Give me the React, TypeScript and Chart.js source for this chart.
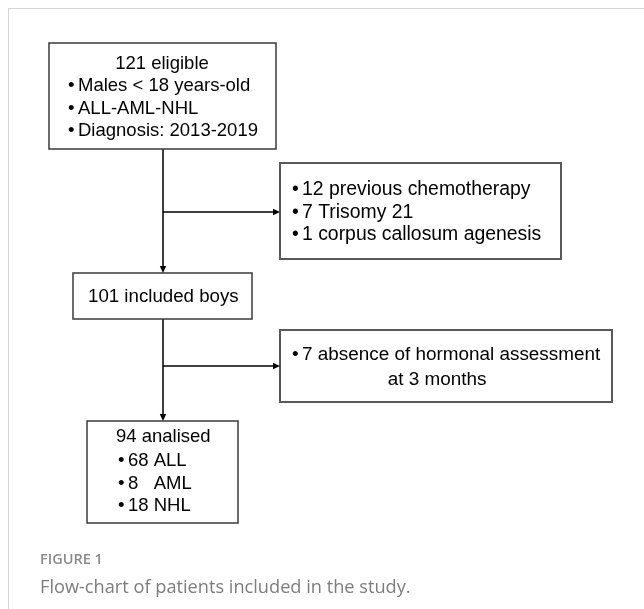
import React, { useEffect, useRef } from "react";
import { Chart, registerables } from "chart.js";

Chart.register(...registerables);

// ---------- content (text of the flow-chart) ----------
const eligibleTitle = "121 eligible";
const eligibleCriteria = ["Males < 18 years-old", "ALL-AML-NHL", "Diagnosis: 2013-2019"];
const firstExclusions = ["12 previous chemotherapy", "7 Trisomy 21", "1 corpus callosum agenesis"];
const includedText = "101 included boys";
const secondExclusion = "7 absence of hormonal assessment";
const secondExclusionCont = "at 3 months";
const analysedTitle = "94 analised";
const analysedGroups = ["68 ALL", "8   AML", "18 NHL"];
const figureLabel = "FIGURE 1";
const figureCaption = "Flow-chart of patients included in the study.";

// ---------- layout (page coordinates, px) ----------
const W = 644;
const H = 609;
const boxes = [
  { x0: 49, y0: 43, x1: 276, y1: 149, color: "#3a3a3a", width: 1.5 },
  { x0: 280, y0: 163, x1: 561, y1: 259, color: "#595959", width: 2 },
  { x0: 73, y0: 273, x1: 252, y1: 319, color: "#3a3a3a", width: 1.5 },
  { x0: 280, y0: 330, x1: 612, y1: 402, color: "#595959", width: 2 },
  { x0: 87, y0: 421, x1: 238, y1: 523, color: "#3a3a3a", width: 1.5 },
];
const connectors = [
  { from: [163, 149], to: [163, 273] },
  { from: [163, 212], to: [280, 212] },
  { from: [163, 319], to: [163, 421] },
  { from: [163, 366], to: [280, 366] },
];

type TextItem = { text: string; x: number; y: number; align: CanvasTextAlign; bullet?: number; size: number };
const textItems: TextItem[] = [
  { text: eligibleTitle, x: 162, y: 64, align: "center", size: 18.5 },
  ...eligibleCriteria.map((t, i) => ({ text: t, x: 78, y: 86 + i * 22.5, align: "left" as CanvasTextAlign, bullet: 68, size: 18.5 })),
  ...firstExclusions.map((t, i) => ({ text: t, x: 302, y: 190 + i * 22.5, align: "left" as CanvasTextAlign, bullet: 292, size: 19.4 })),
  { text: includedText, x: 88, y: 297, align: "left", size: 18.7 },
  { text: secondExclusion, x: 302, y: 355, align: "left", bullet: 292, size: 18.9 },
  { text: secondExclusionCont, x: 437, y: 380, align: "center", size: 18.9 },
  { text: analysedTitle, x: 116, y: 437, align: "left", size: 18.5 },
  ...analysedGroups.map((t, i) => ({ text: t, x: 128, y: 461 + i * 22.5, align: "left" as CanvasTextAlign, bullet: 118, size: 18.5 })),
];

const flowPlugin = {
  id: "flowText",
  afterDatasetsDraw(chart: any) {
    const { ctx, scales } = chart;
    const px = (v: number) => scales.x.getPixelForValue(v);
    const py = (v: number) => scales.y.getPixelForValue(v);
    ctx.save();
    // arrow heads
    ctx.fillStyle = "#000";
    connectors.forEach((c) => {
      const tx = px(c.to[0]);
      const ty = py(c.to[1]);
      const dx = c.to[0] - c.from[0];
      const dy = c.to[1] - c.from[1];
      const len = Math.hypot(dx, dy);
      const ux = dx / len;
      const uy = dy / len;
      const L = 7;
      const hw = 3.2;
      ctx.beginPath();
      ctx.moveTo(tx, ty);
      ctx.lineTo(tx - ux * L - uy * hw, ty - uy * L + ux * hw);
      ctx.lineTo(tx - ux * L + uy * hw, ty - uy * L - ux * hw);
      ctx.closePath();
      ctx.fill();
    });
    // text
    ctx.fillStyle = "#000";
    ctx.textBaseline = "middle";
    textItems.forEach((t) => {
      ctx.font = `${t.size}px "Liberation Sans", Arial, sans-serif`;
      if (t.bullet !== undefined) {
        ctx.textAlign = "left";
        ctx.fillText("\u2022", px(t.bullet), py(t.y));
      }
      ctx.textAlign = t.align;
      ctx.fillText(t.text, px(t.x), py(t.y));
    });
    ctx.restore();
  },
};

export default function App() {
  const ref = useRef<HTMLCanvasElement | null>(null);
  useEffect(() => {
    if (!ref.current) return;
    const datasets: any[] = [];
    boxes.forEach((b) => {
      datasets.push({
        data: [
          { x: b.x0, y: b.y0 },
          { x: b.x1, y: b.y0 },
          { x: b.x1, y: b.y1 },
          { x: b.x0, y: b.y1 },
          { x: b.x0, y: b.y0 },
        ],
        showLine: true,
        borderColor: b.color,
        borderWidth: b.width,
        pointRadius: 0,
        fill: false,
        tension: 0,
        borderJoinStyle: "miter",
        borderCapStyle: "square",
      });
    });
    connectors.forEach((c) => {
      const dx = c.to[0] - c.from[0];
      const dy = c.to[1] - c.from[1];
      const len = Math.hypot(dx, dy);
      datasets.push({
        data: [
          { x: c.from[0], y: c.from[1] },
          { x: c.to[0] - (dx / len) * 4, y: c.to[1] - (dy / len) * 4 },
        ],
        showLine: true,
        borderColor: "#000",
        borderWidth: 1.5,
        pointRadius: 0,
        fill: false,
      });
    });
    const chart = new Chart(ref.current, {
      type: "scatter",
      data: { datasets },
      options: {
        responsive: false,
        animation: false,
        events: [],
        layout: { padding: 0 },
        plugins: { legend: { display: false }, tooltip: { enabled: false } },
        scales: {
          x: { type: "linear", min: 0, max: W, display: false },
          y: { type: "linear", min: 0, max: H, reverse: true, display: false },
        },
      },
      plugins: [flowPlugin],
    } as any);
    return () => chart.destroy();
  }, []);

  return (
    <div style={{ position: "fixed", left: 0, top: 0, width: W, height: H, overflow: "hidden", background: "#fff" }}>
      <div
        style={{
          position: "absolute",
          left: 8,
          top: 8,
          width: 800,
          height: 800,
          border: "1px solid #d6d6d6",
        }}
      />
      <canvas ref={ref} width={W} height={H} style={{ position: "absolute", left: 0, top: 0, width: W, height: H }} />
      <div
        style={{
          position: "absolute",
          left: 40,
          top: 549,
          fontFamily: '"Open Sans", sans-serif',
          fontWeight: 600,
          fontSize: 14.5,
          color: "#8a8a8a",
          lineHeight: "20px",
        }}
      >
        {figureLabel}
      </div>
      <div
        style={{
          position: "absolute",
          left: 40,
          top: 573,
          fontFamily: '"Open Sans", sans-serif',
          fontWeight: 400,
          fontSize: 18.2,
          color: "#7d7d7d",
          lineHeight: "26px",
          whiteSpace: "nowrap",
        }}
      >
        {figureCaption}
      </div>
    </div>
  );
}
